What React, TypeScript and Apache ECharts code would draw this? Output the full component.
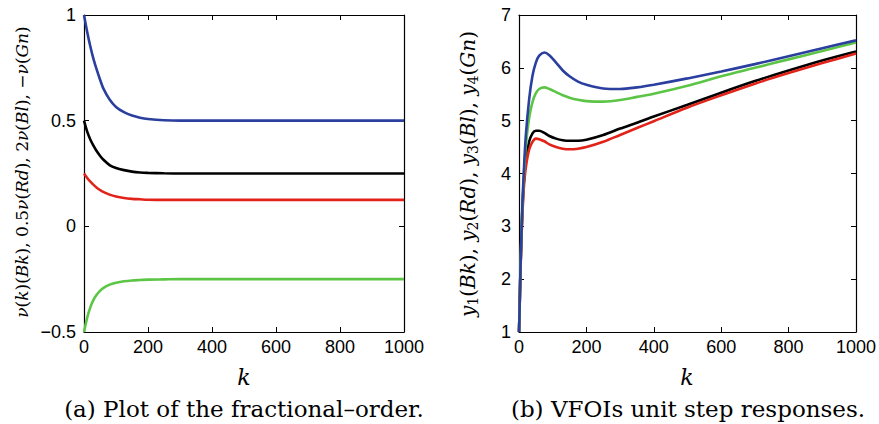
import React, { useEffect, useRef } from "react";
import * as echarts from "echarts";

const kLeft = [0, 10, 20, 30, 40, 50, 60, 80, 100, 125, 150, 175, 200, 250, 300, 400, 600, 800, 1000];
const leftBk = [0.5, 0.448, 0.41, 0.381, 0.355, 0.334, 0.316, 0.29, 0.276, 0.266, 0.259, 0.255, 0.253, 0.251, 0.25, 0.25, 0.25, 0.25, 0.25];
const leftRd = [0.25, 0.229, 0.211, 0.196, 0.183, 0.172, 0.163, 0.15, 0.141, 0.134, 0.13, 0.128, 0.126, 0.125, 0.125, 0.125, 0.125, 0.125, 0.125];
const leftBl = [1.0, 0.92, 0.85, 0.79, 0.74, 0.695, 0.654, 0.6, 0.565, 0.54, 0.524, 0.514, 0.508, 0.502, 0.5, 0.5, 0.5, 0.5, 0.5];
const leftGn = [-0.5, -0.432, -0.382, -0.347, -0.323, -0.305, -0.292, -0.276, -0.267, -0.26, -0.256, -0.254, -0.252, -0.251, -0.25, -0.25, -0.25, -0.25, -0.25];

const kRight = [0, 2, 4, 7, 10, 14, 20, 30, 40, 50, 60, 75, 90, 110, 130, 150, 175, 200, 250, 300, 350, 400, 500, 600, 700, 800, 900, 1000];
const rightBl = [1, 1.5, 2.1, 2.8, 3.4, 4.0, 4.7, 5.4, 5.85, 6.1, 6.23, 6.29, 6.24, 6.1, 5.95, 5.84, 5.74, 5.68, 5.61, 5.6, 5.63, 5.68, 5.8, 5.93, 6.07, 6.22, 6.37, 6.52];
const rightGn = [1, 1.5, 2.1, 2.8, 3.35, 3.9, 4.5, 5.05, 5.35, 5.52, 5.6, 5.63, 5.6, 5.54, 5.48, 5.435, 5.395, 5.37, 5.36, 5.39, 5.45, 5.51, 5.66, 5.84, 6.0, 6.16, 6.32, 6.48];
const rightBk = [1, 1.5, 2.1, 2.75, 3.3, 3.8, 4.25, 4.6, 4.76, 4.81, 4.81, 4.77, 4.71, 4.66, 4.63, 4.62, 4.62, 4.64, 4.73, 4.85, 4.96, 5.08, 5.3, 5.53, 5.75, 5.95, 6.14, 6.31];
const rightRd = [1, 1.5, 2.05, 2.7, 3.2, 3.7, 4.1, 4.45, 4.6, 4.66, 4.65, 4.61, 4.55, 4.5, 4.47, 4.46, 4.47, 4.5, 4.6, 4.73, 4.86, 4.99, 5.25, 5.48, 5.7, 5.9, 6.09, 6.27];

const COLORS = { Bk: "#000000", Rd: "#e2231a", Bl: "#2b3f9e", Gn: "#5cc545" };
const TICK_FONT = "Liberation Sans";
const SERIF = "DejaVu Serif";

const pair = (xs: number[], ys: number[]) => xs.map((x, i) => [x, ys[i]]);

export default function App() {
  const ref = useRef<HTMLDivElement>(null);
  useEffect(() => {
    if (!ref.current) return;
    const chart = echarts.init(ref.current, undefined, { renderer: "svg" });
    const grids = [
      { left: 84, right: 475, top: 15, bottom: 92 },
      { left: 519, right: 22, top: 15, bottom: 92 },
    ];
    const labelStyle = { fontFamily: TICK_FONT, fontSize: 18, color: "#000" };
    const mkX = (gi: number, pos: "bottom" | "top") => ({
      type: "value",
      gridIndex: gi,
      position: pos,
      min: 0,
      max: 1000,
      interval: 200,
      axisLine: { show: true, onZero: false, lineStyle: { color: "#000", width: 1.2 } },
      axisTick: { show: true, inside: true, length: 5, lineStyle: { color: "#000" } },
      axisLabel: { show: pos === "bottom", margin: 6, ...labelStyle, formatter: (v: number) => String(v) },
      splitLine: { show: false },
    });
    const mkY = (gi: number, pos: "left" | "right", min: number, max: number, interval: number) => ({
      type: "value",
      gridIndex: gi,
      position: pos,
      min,
      max,
      interval,
      axisLine: { show: true, onZero: false, lineStyle: { color: "#000", width: 1.2 } },
      axisTick: { show: true, inside: true, length: 5, lineStyle: { color: "#000" } },
      axisLabel: {
        show: pos === "left",
        margin: 8,
        ...labelStyle,
        formatter: (v: number) => String(v).replace("-", "\u2212"),
      },
      splitLine: { show: false },
    });
    const line = (name: string, xi: number, yi: number, data: number[][], color: string) => ({
      name,
      type: "line",
      xAxisIndex: xi,
      yAxisIndex: yi,
      data,
      showSymbol: false,
      smooth: 0.3,
      lineStyle: { color, width: 2.6 },
      itemStyle: { color },
      z: 3,
    });
    const it = { fontFamily: SERIF, fontStyle: "italic", fontSize: 17, fill: "#000" };
    const up = { fontFamily: SERIF, fontSize: 17, fill: "#000" };
    const it2 = { fontFamily: SERIF, fontStyle: "italic", fontSize: 20, fill: "#000" };
    const up2 = { fontFamily: SERIF, fontSize: 20, fill: "#000" };
    const sub = { fontFamily: SERIF, fontSize: 14, fill: "#000", verticalAlign: "bottom", padding: [9, 0, 0, 0] };
    chart.setOption({
      animation: false,
      backgroundColor: "#ffffff",
      grid: grids,
      xAxis: [mkX(0, "bottom"), mkX(0, "top"), mkX(1, "bottom"), mkX(1, "top")],
      yAxis: [mkY(0, "left", -0.5, 1, 0.5), mkY(0, "right", -0.5, 1, 0.5), mkY(1, "left", 1, 7, 1), mkY(1, "right", 1, 7, 1)],
      series: [
        line("ν(Bl)", 0, 0, pair(kLeft, leftBl), COLORS.Bl),
        line("ν(Bk)", 0, 0, pair(kLeft, leftBk), COLORS.Bk),
        line("ν(Rd)", 0, 0, pair(kLeft, leftRd), COLORS.Rd),
        line("ν(Gn)", 0, 0, pair(kLeft, leftGn), COLORS.Gn),
        line("y1(Bk)", 2, 2, pair(kRight, rightBk), COLORS.Bk),
        line("y2(Rd)", 2, 2, pair(kRight, rightRd), COLORS.Rd),
        line("y4(Gn)", 2, 2, pair(kRight, rightGn), COLORS.Gn),
        line("y3(Bl)", 2, 2, pair(kRight, rightBl), COLORS.Bl),
      ],
      graphic: [
        {
          type: "text",
          x: 22,
          y: 172,
          rotation: Math.PI / 2,
          style: {
            text: "{i|ν}{u|(}{i|k}{u|)(}{i|Bk}{u|), 0.5}{i|ν}{u|(}{i|Rd}{u|), 2}{i|ν}{u|(}{i|Bl}{u|), −}{i|ν}{u|(}{i|Gn}{u|)}",
            rich: { i: it, u: up },
            align: "center",
            verticalAlign: "middle",
          },
        },
        {
          type: "text",
          x: 468,
          y: 174,
          rotation: Math.PI / 2,
          style: {
            text: "{i|y}{s|1}{u|(}{i|Bk}{u|), }{i|y}{s|2}{u|(}{i|Rd}{u|), }{i|y}{s|3}{u|(}{i|Bl}{u|), }{i|y}{s|4}{u|(}{i|Gn}{u|)}",
            rich: { i: it2, u: up2, s: sub },
            align: "center",
            verticalAlign: "middle",
          },
        },
        {
          type: "text",
          x: 244,
          y: 377,
          style: { text: "k", font: `italic 22px '${SERIF}'`, fill: "#000", align: "center", verticalAlign: "middle" },
        },
        {
          type: "text",
          x: 687,
          y: 377,
          style: { text: "k", font: `italic 22px '${SERIF}'`, fill: "#000", align: "center", verticalAlign: "middle" },
        },
        {
          type: "text",
          x: 244,
          y: 409,
          style: { text: "(a) Plot of the fractional–order.", font: `23px '${SERIF}'`, fill: "#000", align: "center", verticalAlign: "middle" },
        },
        {
          type: "text",
          x: 688,
          y: 409,
          style: { text: "(b) VFOIs unit step responses.", font: `23px '${SERIF}'`, fill: "#000", align: "center", verticalAlign: "middle" },
        },
      ],
    });
    return () => chart.dispose();
  }, []);
  return <div ref={ref} style={{ width: 879, height: 424, position: "absolute", left: 0, top: 0 }} />;
}
